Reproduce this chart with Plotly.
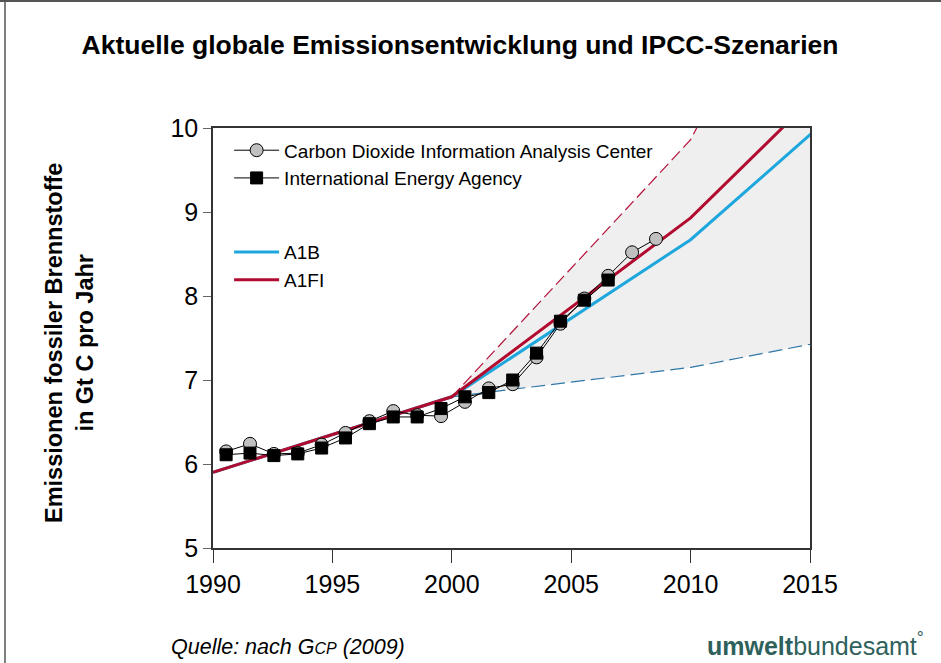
import plotly.graph_objects as go

# ---- data ----
obs_years_cdiac = list(range(1990, 2009))
cdiac = [6.15, 6.24, 6.12, 6.13, 6.23, 6.37, 6.51, 6.63, 6.58, 6.57,
         6.74, 6.90, 6.95, 7.27, 7.67, 7.97, 8.24, 8.52, 8.68]
obs_years_iea = list(range(1990, 2007))
iea = [6.11, 6.13, 6.10, 6.12, 6.19, 6.31, 6.48, 6.56, 6.56, 6.66,
       6.80, 6.85, 7.00, 7.32, 7.70, 7.95, 8.19]

scen_years = [1990, 2000, 2010, 2020]
a1b = [5.90, 6.80, 8.67, 11.17]
a1fi = [5.90, 6.80, 8.93, 11.72]

range_years = [2000, 2010, 2020]
range_upper = [6.80, 9.86, 15.4]
range_lower = [6.80, 7.15, 7.70]

MID = 0.55  # annual values plotted mid-year

FONT = "Liberation Sans, Arial, sans-serif"

fig = go.Figure()

# scenario range (grey band)
fig.add_trace(go.Scatter(x=range_years, y=range_upper, mode="lines",
                         line=dict(color="#b5123a", width=1.2, dash="12px,5px"),
                         showlegend=False, hoverinfo="skip"))
fig.add_trace(go.Scatter(x=range_years, y=range_lower, mode="lines",
                         line=dict(color="#2e78a8", width=1.2, dash="14px,6px"),
                         fill="tonexty", fillcolor="#efefef",
                         showlegend=False, hoverinfo="skip"))

# scenarios
fig.add_trace(go.Scatter(x=scen_years, y=a1b, mode="lines", name="A1B",
                         line=dict(color="#1ea7dc", width=3),
                         legend="legend2", legendgroup="a1b"))
fig.add_trace(go.Scatter(x=scen_years, y=a1fi, mode="lines", name="A1FI",
                         line=dict(color="#b10b30", width=3),
                         legend="legend2", legendgroup="a1fi"))

# observations
fig.add_trace(go.Scatter(x=[y + MID for y in obs_years_cdiac], y=cdiac,
                         mode="lines+markers",
                         name="Carbon Dioxide Information Analysis Center",
                         line=dict(color="black", width=1),
                         marker=dict(symbol="circle", size=13, color="#c0c0c0",
                                     line=dict(color="black", width=1)),
                         legend="legend", legendgroup="cdiac"))
fig.add_trace(go.Scatter(x=[y + MID for y in obs_years_iea], y=iea,
                         mode="lines+markers",
                         name="International Energy Agency",
                         line=dict(color="black", width=1),
                         marker=dict(symbol="square", size=12, color="black",
                                     line=dict(color="black", width=1)),
                         legend="legend", legendgroup="iea"))

fig.update_layout(
    width=941, height=663,
    margin=dict(l=213, r=131, t=128, b=115),
    paper_bgcolor="white", plot_bgcolor="white",
    font=dict(family=FONT, color="black"),
    title=dict(text="<b>Aktuelle globale Emissionsentwicklung und IPCC-Szenarien</b>",
               x=460 / 941, xanchor="center", y=1 - 45 / 663, yanchor="middle",
               font=dict(size=26.5, family=FONT, color="black")),
    xaxis=dict(range=[1990, 2015], tickvals=[1990, 1995, 2000, 2005, 2010, 2015],
               showgrid=False, zeroline=False, showline=True, linecolor="#333",
               linewidth=1.5, mirror=True, ticks="outside", ticklen=13,
               tickcolor="#333", tickwidth=1.2,
               tickfont=dict(size=25, family=FONT, color="black")),
    yaxis=dict(range=[5, 10], tickvals=[5, 6, 7, 8, 9, 10],
               showgrid=False, zeroline=False, showline=True, linecolor="#333",
               linewidth=1.5, mirror=True, ticks="outside", ticklen=8,
               tickcolor="#666", tickwidth=1.2,
               tickfont=dict(size=25, family=FONT, color="black")),
    legend=dict(x=0.027, y=0.992, xanchor="left", yanchor="top",
                bgcolor="rgba(0,0,0,0)", font=dict(size=19, family=FONT),
                traceorder="grouped", tracegroupgap=0, itemwidth=45),
    legend2=dict(x=0.027, y=0.7495, xanchor="left", yanchor="top",
                 bgcolor="rgba(0,0,0,0)", font=dict(size=19, family=FONT),
                 traceorder="grouped", tracegroupgap=0, itemwidth=45),
    showlegend=True,
)

# y-axis title
fig.add_annotation(text="<b>Emissionen fossiler Brennstoffe<br>in Gt C pro Jahr</b>",
                   xref="paper", yref="paper", x=(69 - 213) / 597, y=(548 - 343) / 420,
                   xanchor="center", yanchor="middle", textangle=-90, showarrow=False,
                   font=dict(size=23.5, family=FONT, color="black"))
# source
fig.add_annotation(text="<i>Quelle: nach G<span style='font-size:16px'>CP</span> (2009)</i>",
                   xref="paper", yref="paper", x=(169 - 213) / 597, y=(548 - 647) / 420,
                   xanchor="left", yanchor="middle", showarrow=False,
                   font=dict(size=21.5, family=FONT, color="black"))
# logo text
fig.add_annotation(text="<b>umwelt</b>bundesamt<sup>°</sup>",
                   xref="paper", yref="paper", x=(705 - 213) / 597, y=(548 - 644) / 420,
                   xanchor="left", yanchor="middle", showarrow=False,
                   font=dict(size=25, family=FONT, color="#2f615c"))

# outer frame (top and left)
fig.add_shape(type="line", xref="paper", yref="paper",
              x0=(0 - 213) / 597, x1=(941 - 213) / 597,
              y0=(548 - 1) / 420, y1=(548 - 1) / 420,
              line=dict(color="#555", width=2))
fig.add_shape(type="line", xref="paper", yref="paper",
              x0=(5 - 213) / 597, x1=(5 - 213) / 597,
              y0=(548 - 0) / 420, y1=(548 - 663) / 420,
              line=dict(color="#555", width=1.5))

fig.write_html("out.html", config={"displayModeBar": False},
               post_script="document.body.style.margin='0px';document.body.style.overflow='hidden';")
